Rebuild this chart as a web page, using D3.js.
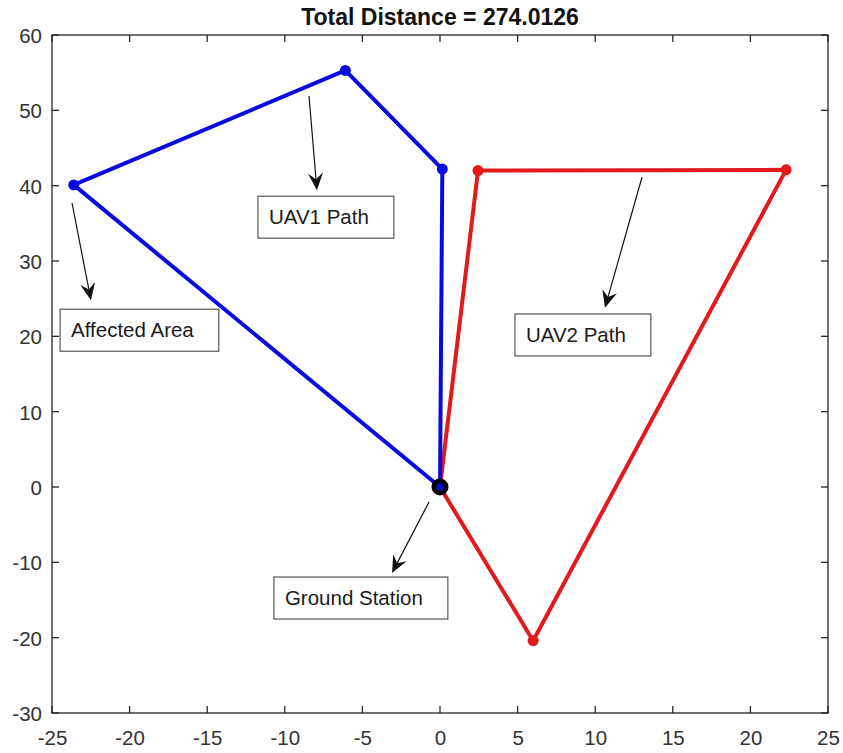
<!DOCTYPE html>
<html>
<head>
<meta charset="utf-8">
<script src="https://cdn.jsdelivr.net/npm/d3@7"></script>
<style>
  body { margin: 0; background: #ffffff; }
  text { font-family: "Liberation Sans", Arial, Helvetica, sans-serif; }
</style>
</head>
<body>
<div id="chart"></div>
<script>
// path data (x, y)
var uav1X = [0, -23.6, -6.1, 0.15, 0];
var uav1Y = [0, 40.1, 55.3, 42.2, 0];
var uav2X = [0, 2.45, 22.3, 6.0, 0];
var uav2Y = [0, 42.0, 42.1, -20.4, 0];
var stationX = [0];
var stationY = [0];

var xTicks = [-25, -20, -15, -10, -5, 0, 5, 10, 15, 20, 25];
var yTicks = [-30, -20, -10, 0, 10, 20, 30, 40, 50, 60];
var titleText = "Total Distance = 274.0126";

// annotations: arrow from (ax0, ay0) to (ax1, ay1), box top-left at (bx, by)
var noteLabels = ["Affected Area", "UAV1 Path", "UAV2 Path", "Ground Station"];
var noteArrowX0 = [-23.71, -8.44, 13.02, -0.71];
var noteArrowY0 = [37.7, 51.9, 41.15, -2.0];
var noteArrowX1 = [-22.49, -7.93, 10.63, -3.09];
var noteArrowY1 = [24.8, 39.4, 23.8, -11.4];
var noteBoxX = [-24.48, -11.73, 4.83, -10.70];
var noteBoxY = [23.6, 38.6, 22.97, -11.95];

var w = 843, h = 753;
var m = {top: 35, right: 15, bottom: 40, left: 52};

var svg = d3.select("#chart")
            .append("svg")
            .attr("width", w)
            .attr("height", h);

var xScale = d3.scaleLinear().domain([-25, 25]).range([m.left, w - m.right]);
var yScale = d3.scaleLinear().domain([-30, 60]).range([h - m.bottom, m.top]);

var axisColor = "#262626";
var tickLen = 7;
var fmt = function(d){ return String(d); };  // plain hyphen like MATLAB

// axes (MATLAB style box, ticks inward)
var xAxis = d3.axisBottom(xScale).tickValues(xTicks).tickSize(0).tickPadding(17)
              .tickFormat(fmt);
var yAxis = d3.axisLeft(yScale).tickValues(yTicks).tickSize(0).tickPadding(10)
              .tickFormat(fmt);

var gx = svg.append("g")
   .attr("transform", "translate(0," + yScale(-30) + ")")
   .call(xAxis);
var gy = svg.append("g")
   .attr("transform", "translate(" + xScale(-25) + ",0)")
   .call(yAxis);

[gx, gy].forEach(function(g){
  g.select(".domain").remove();
  g.selectAll("text")
   .attr("fill", "#333")
   .style("font-size", "20.5px");
});
gy.selectAll("text").attr("dy", "0.36em");

// inward ticks on all four sides
var ticks = svg.append("g").attr("stroke", axisColor).attr("stroke-width", 1.3);
xTicks.forEach(function(t){
  ticks.append("line")
       .attr("x1", xScale(t)).attr("x2", xScale(t))
       .attr("y1", yScale(-30)).attr("y2", yScale(-30) - tickLen);
  ticks.append("line")
       .attr("x1", xScale(t)).attr("x2", xScale(t))
       .attr("y1", yScale(60)).attr("y2", yScale(60) + tickLen);
});
yTicks.forEach(function(t){
  ticks.append("line")
       .attr("x1", xScale(-25)).attr("x2", xScale(-25) + tickLen)
       .attr("y1", yScale(t)).attr("y2", yScale(t));
  ticks.append("line")
       .attr("x1", xScale(25)).attr("x2", xScale(25) - tickLen)
       .attr("y1", yScale(t)).attr("y2", yScale(t));
});

// frame
svg.append("rect")
   .attr("x", xScale(-25))
   .attr("y", yScale(60))
   .attr("width", xScale(25) - xScale(-25))
   .attr("height", yScale(-30) - yScale(60))
   .attr("fill", "none")
   .attr("stroke", axisColor)
   .attr("stroke-width", 1.3);

// title
svg.append("text")
   .attr("x", (xScale(-25) + xScale(25)) / 2)
   .attr("y", 25)
   .attr("text-anchor", "middle")
   .attr("fill", "#111")
   .style("font-size", "23px")
   .style("font-weight", "bold")
   .text(titleText);

// paths
var line = d3.line()
             .x(function(d){ return xScale(d[0]); })
             .y(function(d){ return yScale(d[1]); });

function drawPath(xs, ys, color){
  var pts = xs.map(function(x, i){ return [x, ys[i]]; });
  svg.append("path")
     .datum(pts)
     .attr("d", line)
     .attr("fill", "none")
     .attr("stroke", color)
     .attr("stroke-width", 4)
     .attr("stroke-linejoin", "round");
  svg.append("g")
     .selectAll("circle")
     .data(pts)
     .enter()
     .append("circle")
     .attr("cx", function(d){ return xScale(d[0]); })
     .attr("cy", function(d){ return yScale(d[1]); })
     .attr("r", 5.5)
     .attr("fill", color);
}

drawPath(uav2X, uav2Y, "#e31a1c");
drawPath(uav1X, uav1Y, "#0a0ae0");

// ground station marker
svg.append("circle")
   .attr("cx", xScale(stationX[0]))
   .attr("cy", yScale(stationY[0]))
   .attr("r", 8.5)
   .attr("fill", "#000");
svg.append("circle")
   .attr("cx", xScale(stationX[0]))
   .attr("cy", yScale(stationY[0]))
   .attr("r", 3.5)
   .attr("fill", "#0a0ae0");

// annotations
var notes = svg.append("g");
noteLabels.forEach(function(label, i){
  var x0 = xScale(noteArrowX0[i]), y0 = yScale(noteArrowY0[i]);
  var x1 = xScale(noteArrowX1[i]), y1 = yScale(noteArrowY1[i]);
  var ang = Math.atan2(y1 - y0, x1 - x0);
  var L = 17, W = 7.5, back = 11;
  var ux = Math.cos(ang), uy = Math.sin(ang);
  var px = -uy, py = ux;

  notes.append("line")
       .attr("x1", x0).attr("y1", y0)
       .attr("x2", x1 - ux * back).attr("y2", y1 - uy * back)
       .attr("stroke", "#111")
       .attr("stroke-width", 1.2);

  var head = [
    [x1, y1],
    [x1 - ux * L + px * W, y1 - uy * L + py * W],
    [x1 - ux * back, y1 - uy * back],
    [x1 - ux * L - px * W, y1 - uy * L - py * W]
  ];
  notes.append("path")
       .attr("d", "M" + head.map(function(p){ return p.join(","); }).join("L") + "Z")
       .attr("fill", "#111");

  var bx = xScale(noteBoxX[i]), by = yScale(noteBoxY[i]);
  var box = notes.append("rect")
       .attr("x", bx).attr("y", by)
       .attr("height", 42)
       .attr("fill", "#fff")
       .attr("stroke", "#555")
       .attr("stroke-width", 1.2);
  var txt = notes.append("text")
       .attr("x", bx + 11)
       .attr("y", by + 28)
       .attr("fill", "#1a1a1a")
       .style("font-size", "20.5px")
       .text(label);
  box.attr("width", txt.node().getComputedTextLength() + 36);
});
</script>
</body>
</html>
